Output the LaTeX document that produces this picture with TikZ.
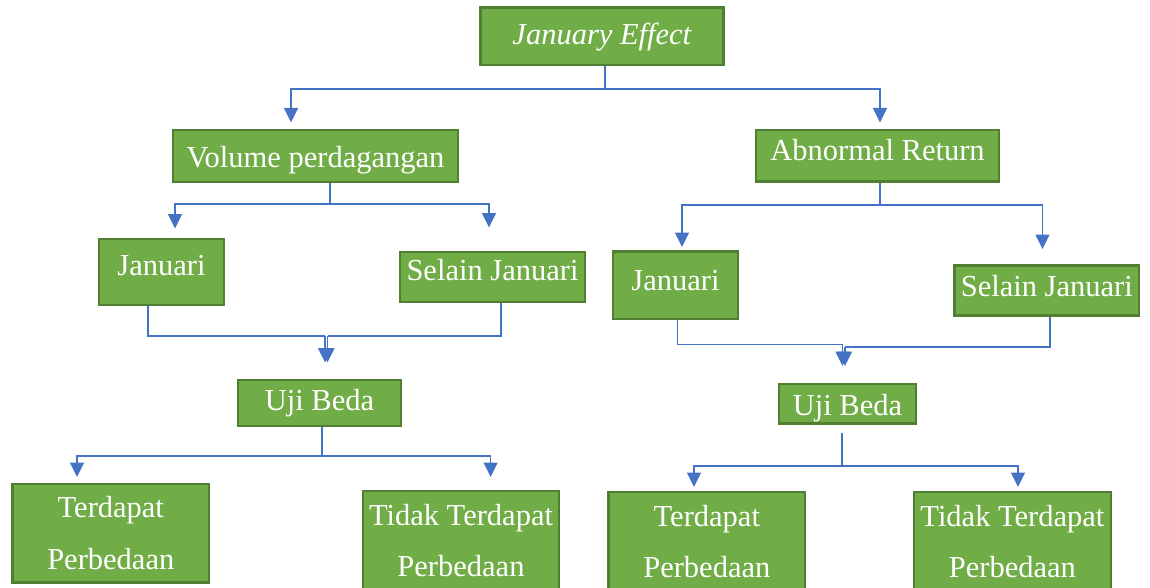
\documentclass[tikz,border=0pt]{standalone}
\usepackage{fontspec}
\setmainfont{Liberation Serif}
\usetikzlibrary{arrows.meta}
\definecolor{grn}{RGB}{112,173,71}
\definecolor{bdr}{RGB}{80,126,50}
\definecolor{blu}{RGB}{68,114,196}
\begin{document}
\begin{tikzpicture}[x=1pt,y=-1pt,
  box/.style={draw=bdr, fill=grn, line width=2.6pt, text=white, inner sep=0pt,
    font=\fontsize{30.5}{51.7}\selectfont},
  two/.style={box, align=center},
  conn/.style={draw=blu, line width=1.4pt},
  arr/.style={conn, -{Triangle[length=14.5pt,width=14pt]}}]
\useasboundingbox (0,0) rectangle (1150,588);

% boxes
\node[box, minimum width=243, minimum height=57.5, text height=23.75pt, text depth=6.25pt, font=\fontsize{30.5}{51.7}\selectfont\itshape] (je) at (601.8,36.25) {January Effect\hspace{10pt}};
\node[box, minimum width=285, minimum height=52, text height=26.5pt, text depth=3.5pt] (vp) at (315.5,156) {Volume perdagangan};
\node[box, minimum width=243, minimum height=51.7, text height=20.2pt, text depth=9.8pt] (ar) at (877.5,155.8) {Abnormal Return\hspace{17pt}};
\node[box, minimum width=125, minimum height=66, text height=18.3pt, text depth=11.7pt] (lj) at (161.5,272) {Januari};
\node[box, minimum width=185, minimum height=50, text height=18.7pt, text depth=11.3pt] (ls) at (492.5,277) {Selain Januari};
\node[box, minimum width=125, minimum height=67.3, text height=19.7pt, text depth=10.3pt] (rj) at (675.5,285.3) {Januari};
\node[box, minimum width=184.5, minimum height=50, text height=20.3pt, text depth=9.7pt] (rs) at (1046.75,290.7) {Selain Januari};
\node[box, minimum width=163, minimum height=46, text height=22pt, text depth=8pt] (lu) at (319.5,403) {Uji Beda};
\node[box, minimum width=137, minimum height=39.7, text height=26.2pt, text depth=3.8pt] (ru) at (847.5,403.8) {Uji Beda};
\node[two, minimum width=196.4, minimum height=98.7] (lt) at (110.8,533.3) {Terdapat\\Perbedaan};
\node[two, minimum width=196, minimum height=99] (ln) at (461,540.5) {Tidak Terdapat\\Perbedaan};
\node[two, minimum width=196.3, minimum height=99] (rt) at (706.8,541.5) {Terdapat\\Perbedaan};
\node[two, minimum width=197.2, minimum height=99] (rn) at (1012.4,541.5) {Tidak Terdapat\\Perbedaan};

% junction and arrow-end coordinates
\coordinate (jm) at (605,89);
\coordinate (vpt) at (291,122.5);
\coordinate (art) at (880,122.5);
\coordinate (vm) at (330,204);
\coordinate (ljt) at (175,228.5);
\coordinate (lst) at (489,227.5);
\coordinate (am) at (880,205);
\coordinate (rjt) at (682,247);
\coordinate (rst) at (1042.5,249);
\coordinate (lma) at (325,336);
\coordinate (lmb) at (327.5,336);
\coordinate (luta) at (325,362.5);
\coordinate (lutb) at (327.5,362.5);
\coordinate (rma) at (842.5,344.5);
\coordinate (rmb) at (845,347);
\coordinate (ruta) at (842.5,366);
\coordinate (rutb) at (845,366);
\coordinate (um) at (322,456);
\coordinate (ltt) at (77,477);
\coordinate (lnt) at (490.6,477);
\coordinate (rum) at (842,466);
\coordinate (rtt) at (694,487);
\coordinate (rnt) at (1018,487);

% connectors
\draw[conn] (je.south -| jm) -- (jm);
\draw[arr] (jm) -| (vpt);
\draw[arr] (jm) -| (art);

\draw[conn] (vp.south -| vm) -- (vm);
\draw[arr] (vm) -| (ljt);
\draw[arr] (vm) -| (lst);

\draw[conn] (ar.south -| am) -- (am);
\draw[arr] (am) -| (rjt);
\draw[arr] (am) -| (rst);

\draw[conn] ([xshift=-13.5pt]lj.south) |- (lma);
\draw[arr] (lma) -- (luta);
\draw[conn] ([xshift=8.5pt]ls.south) |- (lmb);
\draw[arr] (lmb) -- (lutb);

\draw[conn] ([xshift=2pt]rj.south) |- (rma);
\draw[arr] (rma) -- (ruta);
\draw[conn] ([xshift=3.25pt]rs.south) |- (rmb);
\draw[arr] (rmb) -- (rutb);

\draw[conn] (lu.south -| um) -- (um);
\draw[arr] (um) -| (ltt);
\draw[arr] (um) -| (lnt);

\draw[conn] ([xshift=-5.5pt,yshift=-8pt]ru.south) -- (rum);
\draw[arr] (rum) -| (rtt);
\draw[arr] (rum) -| (rnt);
\end{tikzpicture}
\end{document}
